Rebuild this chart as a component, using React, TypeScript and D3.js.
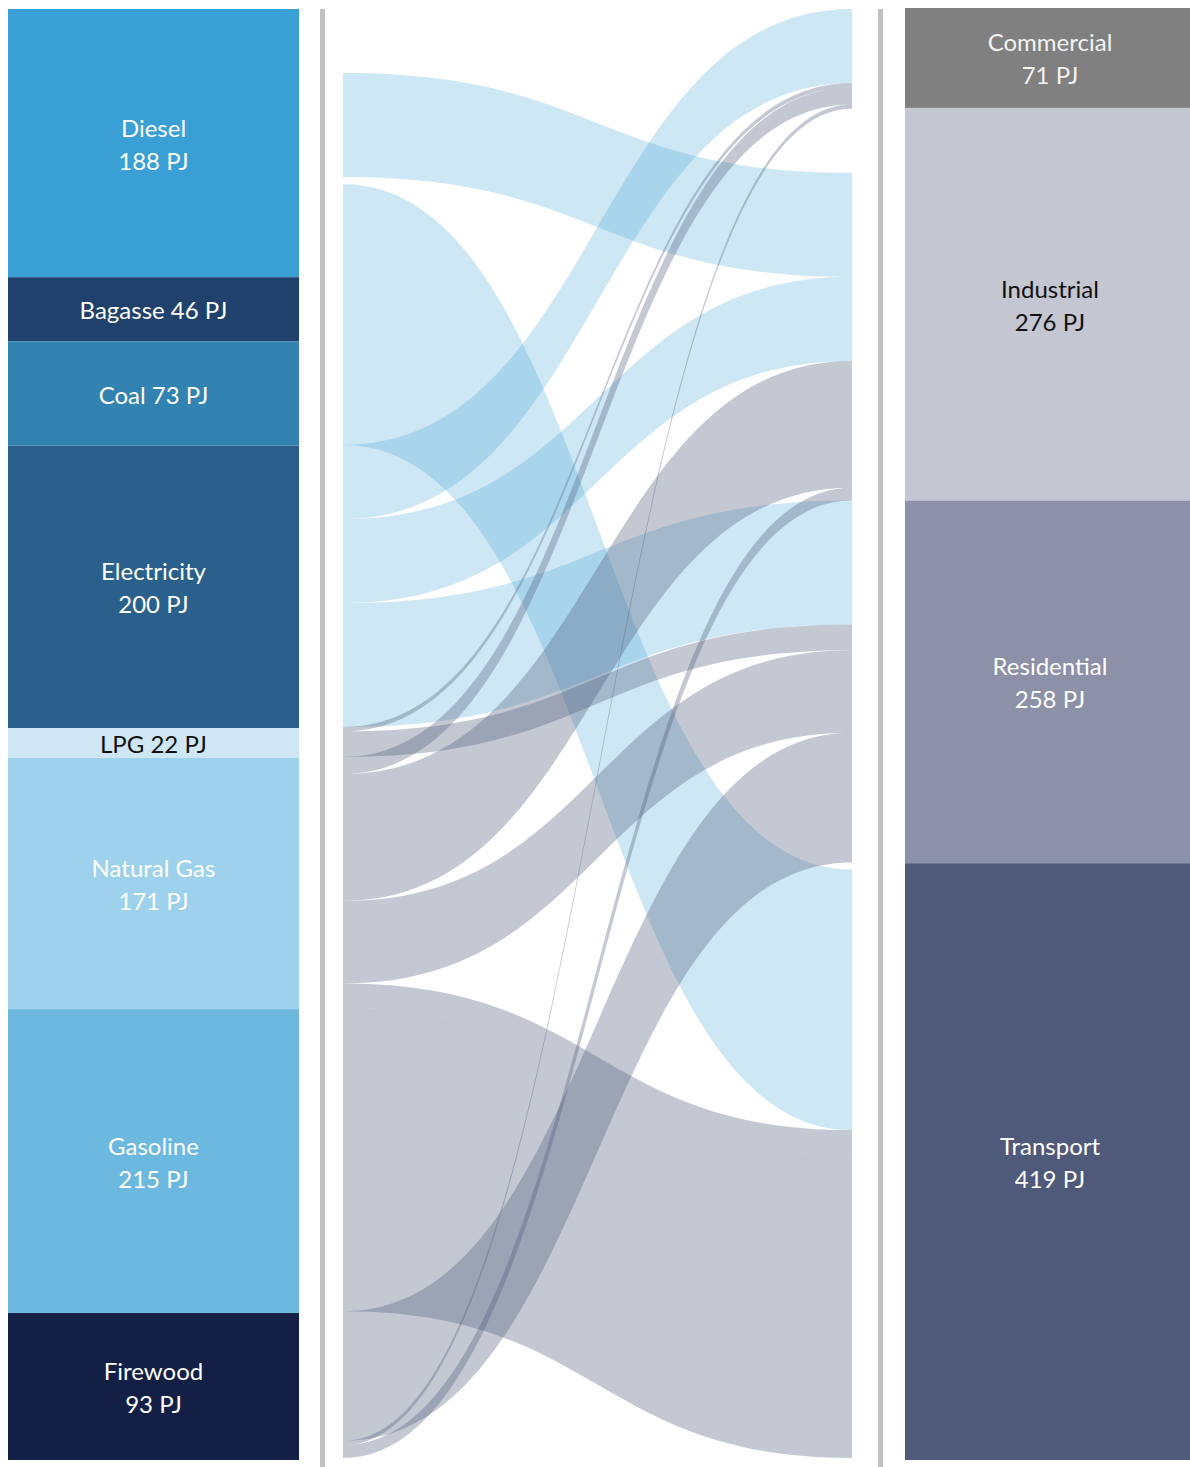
import React from 'react';
import * as d3 from 'd3';

// ---- nodes (left: fuels, right: sectors) ----
const sources = ['Diesel', 'Bagasse', 'Coal', 'Electricity', 'LPG', 'Natural Gas', 'Gasoline', 'Firewood'];
const sourceLabelValues = [188, 46, 73, 200, 22, 171, 215, 93];
const sourceColors = ['#3a9fd5', '#21416d', '#3282b2', '#2b608c', '#cfe7f4', '#9ed1ec', '#6cb8df', '#141f46'];
const sourceTextColors = ['#ffffff', '#ffffff', '#ffffff', '#ffffff', '#111111', '#ffffff', '#ffffff', '#ffffff'];
const sourceInlineLabel = [false, true, true, false, true, false, false, false];
const sourceFlowTint = ['blue', 'blue', 'blue', 'blue', 'gray', 'gray', 'gray', 'gray'];

const targets = ['Commercial', 'Industrial', 'Residential', 'Transport'];
const targetLabelValues = [71, 276, 258, 419];
const targetColors = ['#808080', '#c4c6d2', '#8c91a8', '#4f5a7a'];
const targetTextColors = ['#f2f2f2', '#111111', '#ffffff', '#ffffff'];

// ---- flows, in the order they are stacked on the left side of the ribbon area ----
const flowSources = ['Bagasse', 'Coal', 'Diesel', 'Diesel', 'Electricity', 'Electricity', 'Electricity', 'LPG', 'LPG',
  'Natural Gas', 'Natural Gas', 'Natural Gas', 'Natural Gas', 'Gasoline', 'Firewood', 'Firewood', 'Firewood'];
const flowTargets = ['Industrial', 'Industrial', 'Transport', 'Transport', 'Commercial', 'Industrial', 'Residential', 'Commercial', 'Residential',
  'Commercial', 'Industrial', 'Residential', 'Transport', 'Transport', 'Residential', 'Commercial', 'Industrial'];
const flowValues = [45, 73, 5, 183, 52, 59, 87, 3, 18, 12, 89, 58, 17, 213, 91, 3, 9];
// flows that take up space but are not painted in the original
const flowHidden = [true, false, true, false, false, false, false, false, false, false, false, false, false, false, false, false, false];

const tintFill: Record<string, string> = { blue: '#3a9fd5', gray: '#4f5a7a' };
const tintOpacity: Record<string, number> = { blue: 0.25, gray: 0.335 };

const W = 1190;
const H = 1467;
const FONT = 'Lato, "Open Sans", sans-serif';

export default function App() {
  const total = d3.sum(flowValues);

  // ribbon geometry
  const x0 = 343;
  const x1 = 852;
  const xm = (x0 + x1) / 2;
  const fy = d3.scaleLinear().domain([0, total]).range([9, 1458]);

  const leftEnd = d3.cumsum(flowValues);
  const flows = flowValues.map((v, i) => ({
    i,
    v,
    s: flowSources[i],
    t: flowTargets[i],
    hidden: flowHidden[i],
    ya0: fy(leftEnd[i] - v),
    yb0: fy(leftEnd[i]),
    ya1: 0,
    yb1: 0,
  }));
  const rightOrder = d3.range(flowValues.length).sort(
    (a, b) => targets.indexOf(flowTargets[a]) - targets.indexOf(flowTargets[b]) || a - b
  );
  let acc = 0;
  rightOrder.forEach((i) => {
    flows[i].ya1 = fy(acc);
    acc += flowValues[i];
    flows[i].yb1 = fy(acc);
  });

  const ribbon = (f: typeof flows[number]) => {
    const p = d3.path();
    p.moveTo(x0, f.ya0);
    p.bezierCurveTo(xm, f.ya0, xm, f.ya1, x1, f.ya1);
    p.lineTo(x1, f.yb1);
    p.bezierCurveTo(xm, f.yb1, xm, f.yb0, x0, f.yb0);
    p.closePath();
    return p.toString();
  };

  // node blocks sized by the sum of their flows
  const srcSum = sources.map((s) => d3.sum(flows.filter((f) => f.s === s), (f) => f.v));
  const tgtSum = targets.map((t) => d3.sum(flows.filter((f) => f.t === t), (f) => f.v));
  const ly = d3.scaleLinear().domain([0, d3.sum(srcSum)]).range([9, 1460]);
  const ry = d3.scaleLinear().domain([0, d3.sum(tgtSum)]).range([8, 1460]);
  const srcEnd = d3.cumsum(srcSum);
  const tgtEnd = d3.cumsum(tgtSum);

  const leftBlocks = sources.map((s, i) => ({
    name: s,
    y0: ly(srcEnd[i] - srcSum[i]),
    y1: ly(srcEnd[i]),
    color: sourceColors[i],
    text: sourceTextColors[i],
    inline: sourceInlineLabel[i],
    label: `${sourceLabelValues[i]} PJ`,
  }));
  const rightBlocks = targets.map((t, i) => ({
    name: t,
    y0: ry(tgtEnd[i] - tgtSum[i]),
    y1: ry(tgtEnd[i]),
    color: targetColors[i],
    text: targetTextColors[i],
    inline: false,
    label: `${targetLabelValues[i]} PJ`,
  }));

  const label = (b: typeof leftBlocks[number], cx: number) => {
    const cy = (b.y0 + b.y1) / 2 + 0.5;
    if (b.inline) {
      return (
        <text x={cx} y={cy} textAnchor="middle" dominantBaseline="central" fill={b.text}
          fontFamily={FONT} fontSize={24}>{`${b.name} ${b.label}`}</text>
      );
    }
    return (
      <g fill={b.text} fontFamily={FONT} fontSize={24} textAnchor="middle">
        <text x={cx} y={cy - 16.5} dominantBaseline="central">{b.name}</text>
        <text x={cx} y={cy + 16.5} dominantBaseline="central">{b.label}</text>
      </g>
    );
  };

  const srcIndex = (s: string) => sources.indexOf(s);

  return (
    <svg width={W} height={H} style={{ position: 'absolute', left: 0, top: 0, background: '#fff' }}>
      {/* separators */}
      <rect x={320} y={9} width={5} height={H - 9} fill="#c0c0c0" />
      <rect x={878} y={9} width={5} height={H - 9} fill="#c0c0c0" />

      {/* ribbons */}
      <g>
        {flows.filter((f) => !f.hidden).map((f) => {
          const tint = sourceFlowTint[srcIndex(f.s)];
          return (
            <path key={f.i} d={ribbon(f)} fill={tintFill[tint]} fillOpacity={tintOpacity[tint]} />
          );
        })}
      </g>

      {/* left blocks */}
      {leftBlocks.map((b) => (
        <g key={b.name}>
          <rect x={8} y={b.y0} width={291} height={b.y1 - b.y0} fill={b.color} />
          {label(b, 153.5)}
        </g>
      ))}

      {/* right blocks */}
      {rightBlocks.map((b) => (
        <g key={b.name}>
          <rect x={905} y={b.y0} width={285} height={b.y1 - b.y0} fill={b.color} />
          {label(b, 1050)}
        </g>
      ))}
    </svg>
  );
}
